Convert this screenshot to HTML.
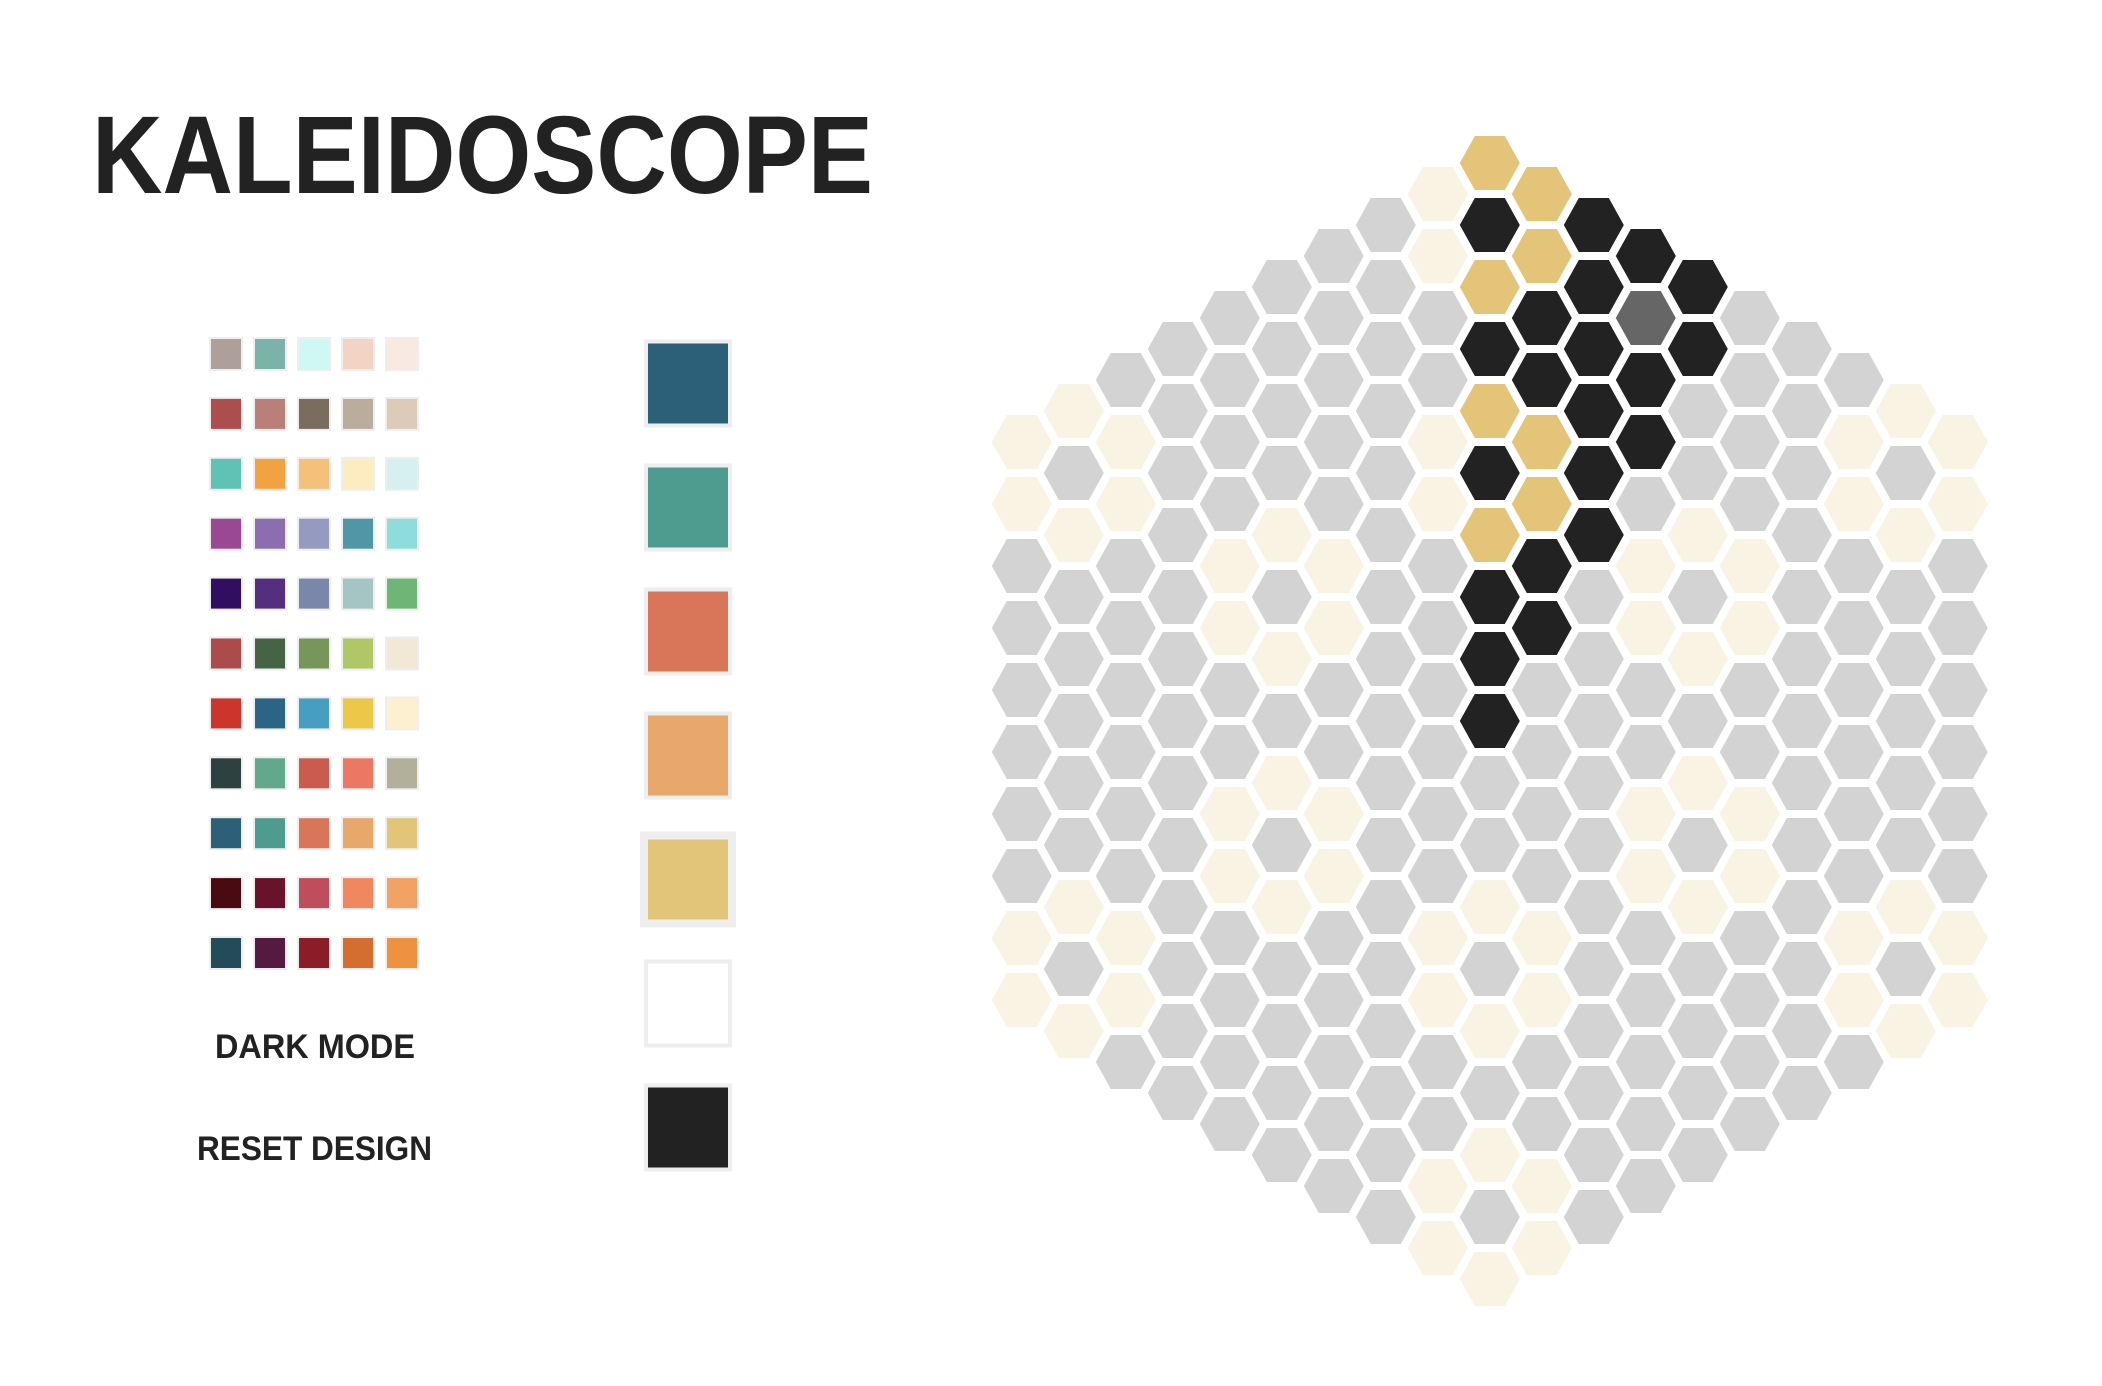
<!DOCTYPE html>
<html>
<head>
<meta charset="utf-8">
<style>
  html,body{margin:0;padding:0;background:#fff;}
  body{width:2102px;height:1386px;overflow:hidden;position:relative;font-family:"Liberation Sans",sans-serif;}
  svg{position:absolute;left:0;top:0;}
</style>
</head>
<body>
<svg id="stage" width="2102" height="1386" viewBox="0 0 2102 1386">
  <text x="92" y="193" font-family="Liberation Sans, sans-serif" font-weight="bold" font-size="110" fill="#222" textLength="781" lengthAdjust="spacingAndGlyphs">KALEIDOSCOPE</text>
  <g id="palettes"></g>
  <g id="swatches"></g>
  <text x="215" y="1058" font-family="Liberation Sans, sans-serif" font-weight="bold" font-size="34" fill="#222" textLength="200" lengthAdjust="spacingAndGlyphs">DARK MODE</text>
  <text x="197" y="1160" font-family="Liberation Sans, sans-serif" font-weight="bold" font-size="34" fill="#222" textLength="235" lengthAdjust="spacingAndGlyphs">RESET DESIGN</text>
  <g id="grid"></g>
</svg>
<script>
const paletteRows = [
  ["#ad9f99","#7bb3ab","#cff8f5","#f3d3c3","#f8e9e2"],
  ["#ad4e4e","#b88079","#7a6d5e","#baad9d","#dbcbb8"],
  ["#60c1b5","#f3a242","#f5c07a","#fcecc0","#d5f0ee"],
  ["#9b4894","#8c6db0","#949ac0","#5196a6","#8fdcdc"],
  ["#320e60","#532f7e","#7b87aa","#a4c5c3","#6db676"],
  ["#ab4b4b","#456446","#76965a","#afc767","#f1e8d6"],
  ["#cb352b","#2c6584","#469fc2","#edc747","#fcf0d1"],
  ["#2d4240","#62a88d","#cb5a4f","#ec7762","#b2b09b"],
  ["#2d5f78","#4e9c8f","#d9765a","#e8a76b","#e3c57a"],
  ["#4a0a12","#68122b","#bf4d5b","#f0875e","#f1a264"],
  ["#234b5a","#541a3f","#8c1c25","#d46d2f","#ee9240"]
];
const currentColors = ["#2c5f78","#4e9c8f","#d9765a","#e8a76b","#e3c57a","#ffffff","#222222"];
const selectedIndex = 4;
const hexColumns = [
  "CCGGGGGGCC",
  "CGCGGGGGCGC",
  "GCCGGGGGGCCG",
  "GGGGGGGGGGGGG",
  "GGGGCCGGCCGGGG",
  "GGGGCGCGCGCGGGG",
  "GGGGGCCGGCCGGGGG",
  "GGGGGGGGGGGGGGGGG",
  "CCGGCCGGGGGGCCGGCC",
  "YKYKYKYKKKGGCGCGCGC",
  "YYKKYYKKGGGGCCGGCC",
  "KKKKKKGGGGGGGGGGG",
  "KDKKGCCGGCCGGGGG",
  "KKGGCGCGCGCGGGG",
  "GGGGCCGGCCGGGG",
  "GGGGGGGGGGGGG",
  "GCCGGGGGGCCG",
  "CGCGGGGGCGC",
  "CCGGGGGGCC"
];
const hexFill = {G:"#d3d3d3", C:"#f8f3e3", Y:"#e3c479", K:"#222222", D:"#666666"};

const NS = "http://www.w3.org/2000/svg";
const pal = document.getElementById('palettes');
paletteRows.forEach((row, ri) => {
  row.forEach((col, ci) => {
    const r = document.createElementNS(NS, 'rect');
    r.setAttribute('x', 209 + ci * 44 + 1);
    r.setAttribute('y', 337 + ri * 59.9 + 1);
    r.setAttribute('width', 32);
    r.setAttribute('height', 32);
    r.setAttribute('fill', col);
    r.setAttribute('stroke', '#eeeeee');
    r.setAttribute('stroke-width', 2);
    
    
    pal.appendChild(r);
  });
});

const sw = document.getElementById('swatches');
currentColors.forEach((col, i) => {
  const cy = 383.5 + i * 124;
  const b = (i === selectedIndex) ? 8 : 4;
  const outer = document.createElementNS(NS, 'rect');
  outer.setAttribute('x', 688 - 40 - b);
  outer.setAttribute('y', cy - 40 - b);
  outer.setAttribute('width', 80 + 2 * b);
  outer.setAttribute('height', 80 + 2 * b);
  outer.setAttribute('fill', '#eeeeee');
  
  
  sw.appendChild(outer);
  const inner = document.createElementNS(NS, 'rect');
  inner.setAttribute('x', 648);
  inner.setAttribute('y', cy - 40);
  inner.setAttribute('width', 80);
  inner.setAttribute('height', 80);
  inner.setAttribute('fill', col);
  
  
  sw.appendChild(inner);
});

const grid = document.getElementById('grid');
hexColumns.forEach((colStr, c) => {
  const d = Math.abs(c - 9);
  const cx = 1021.8 + c * 52;
  for (let r = 0; r < colStr.length; r++) {
    const cy = 163 + 31 * d + 62 * r;
    const pts = [[cx-30,cy],[cx-15,cy-27],[cx+15,cy-27],[cx+30,cy],[cx+15,cy+27],[cx-15,cy+27]]
      .map(p => p[0].toFixed(1) + ',' + p[1].toFixed(1)).join(' ');
    const h = document.createElementNS(NS, 'polygon');
    h.setAttribute('points', pts);
    h.setAttribute('fill', hexFill[colStr[r]]);
    
    
    grid.appendChild(h);
  }
});
</script>
</body>
</html>
